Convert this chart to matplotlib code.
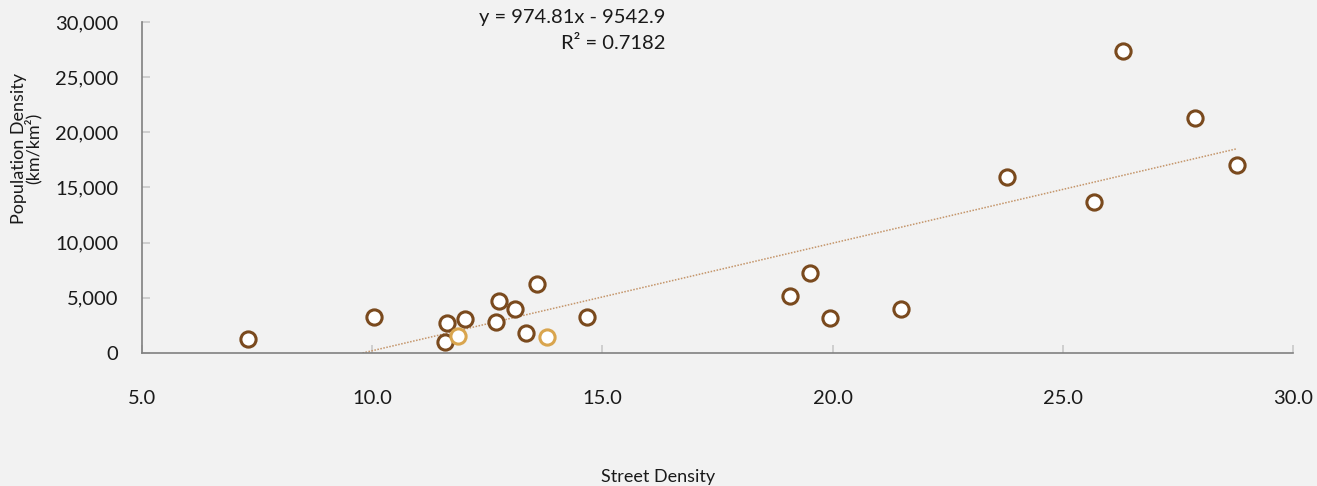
import matplotlib
matplotlib.use("Agg")
import matplotlib.pyplot as plt
import numpy as np
from matplotlib.ticker import FuncFormatter

plt.rcParams['font.family'] = ['Lato', 'DejaVu Sans']

# Data
street_density = [7.30, 10.04, 11.62, 11.58, 12.02, 12.69, 12.75, 13.10, 13.34, 13.58,
                  14.67, 19.07, 19.51, 19.94, 21.49, 23.79, 25.68, 26.31, 27.87, 28.78]
population_density = [1270, 3260, 2720, 1000, 3080, 2810, 4710, 3990, 1810, 6260,
                      3260, 5170, 7250, 3170, 3990, 15960, 13690, 27380, 21310, 17040]
highlight_x = [11.86, 13.80]
highlight_y = [1540, 1450]

slope = 974.81
intercept = -9542.9
r2 = 0.7182

x_ticks = [5, 10, 15, 20, 25, 30]
y_ticks = [0, 5000, 10000, 15000, 20000, 25000, 30000]

bg = '#F2F2F2'
brown = '#7A4A1E'
gold = '#D9A54E'
trend_color = '#C4956A'

fig = plt.figure(figsize=(13.17, 4.86), dpi=100, facecolor=bg)
ax = fig.add_axes([0.1078, 0.2737, 0.874, 0.681], facecolor=bg)

# trendline clipped at y=0 up to max x
all_x = street_density + highlight_x
x0 = -intercept / slope
x1 = max(all_x)
tx = np.array([x0, x1])
ax.plot(tx, slope * tx + intercept, linestyle=(0, (1, 1)), color=trend_color, lw=1.1, zorder=2)

ax.scatter(street_density, population_density, s=120, facecolor='white',
           edgecolor=brown, linewidth=2.2, zorder=3)
ax.scatter(highlight_x, highlight_y, s=120, facecolor='white',
           edgecolor=gold, linewidth=2.2, zorder=3)

ax.set_xlim(5, 30)
ax.set_ylim(0, 30000)
ax.set_xticks(x_ticks)
ax.set_yticks(y_ticks)
ax.xaxis.set_major_formatter(FuncFormatter(lambda v, p: f'{v:.1f}'))
ax.yaxis.set_major_formatter(FuncFormatter(lambda v, p: f'{int(v):,}'))

for s in ['top', 'right']:
    ax.spines[s].set_visible(False)
for s in ['left', 'bottom']:
    ax.spines[s].set_color('#808080')
    ax.spines[s].set_linewidth(1.2)

ax.tick_params(axis='y', direction='in', length=6, color='#C8C8C8', width=1.2,
               labelsize=14.5, labelcolor='#1a1a1a', pad=17)
ax.tick_params(axis='x', direction='in', length=6, color='#C8C8C8', width=1.2,
               labelsize=14.5, labelcolor='#1a1a1a', pad=27)

fig.text(0.020, 0.695, 'Population Density\n(km/km²)', rotation=90, ha='center', va='center',
         multialignment='center', linespacing=0.8, fontsize=13, color='#1a1a1a')
fig.text(0.5, 0.003, 'Street Density', ha='center', va='bottom', fontsize=13, color='#1a1a1a')

fig.text(0.505, 0.965, f'y = {slope}x - {abs(intercept)}', ha='right', va='center',
         fontsize=14.5, color='#1a1a1a')
fig.text(0.505, 0.910, f'R² = {r2}', ha='right', va='center', fontsize=14.5, color='#1a1a1a')

fig.savefig('out.png', dpi=100, facecolor=bg)
